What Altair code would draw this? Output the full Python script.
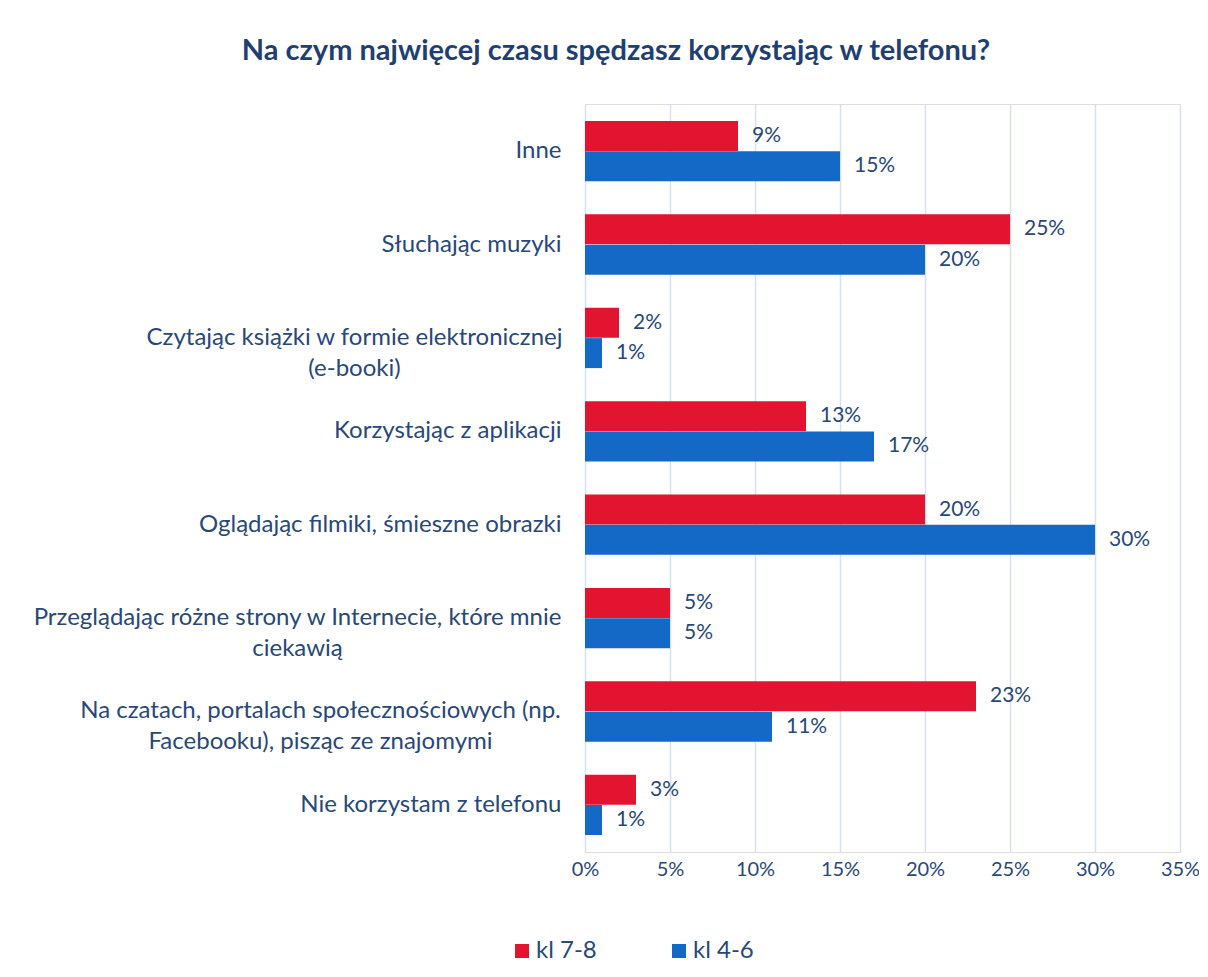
import altair as alt
import pandas as pd

categories = [
    "Inne",
    "Słuchając muzyki",
    "Czytając książki w formie elektronicznej|(e-booki)",
    "Korzystając z aplikacji",
    "Oglądając filmiki, śmieszne obrazki",
    "Przeglądając różne strony w Internecie, które mnie|ciekawią",
    "Na czatach, portalach społecznościowych (np.|Facebooku), pisząc ze znajomymi",
    "Nie korzystam z telefonu",
]
kl78 = [9, 25, 2, 13, 20, 5, 23, 3]
kl46 = [15, 20, 1, 17, 30, 5, 11, 1]
series = ["kl 7-8", "kl 4-6"]
colors = ["#E3142F", "#1468C6"]
ticks = [0, 0.05, 0.10, 0.15, 0.20, 0.25, 0.30, 0.35]

rows = []
for c, a, b in zip(categories, kl78, kl46):
    rows.append({"category": c, "series": series[0], "value": a / 100, "label": f"{a}%"})
    rows.append({"category": c, "series": series[1], "value": b / 100, "label": f"{b}%"})
df = pd.DataFrame(rows)

FONT = "Lato"
TXT = "#28487A"

two_line = "indexof(datum.value, '|') >= 0"

y_axis = alt.Axis(
    title=None,
    labelExpr="split(datum.label, '|')",
    labelFont=FONT,
    labelFontSize=24,
    labelColor=TXT,
    labelLimit=0,
    labelLineHeight=31,
    domain=False,
    ticks=False,
    labelAlign={"condition": {"test": two_line, "value": "center"}, "value": "right"},
    labelPadding={
        "condition": [
            {"test": "indexof(datum.value, 'Czytając') == 0", "value": 231},
            {"test": "indexof(datum.value, 'Przeglądając') == 0", "value": 288},
            {"test": "indexof(datum.value, 'Na czatach') == 0", "value": 265},
        ],
        "value": 24,
    },
)

x_axis = alt.Axis(
    title=None,
    format=".0%",
    values=ticks,
    grid=True,
    gridColor="#D6E0F0",
    gridWidth=1.5,
    domain=False,
    ticks=False,
    labelFlush=False,
    labelFont=FONT,
    labelFontSize=20,
    labelColor=TXT,
    labelPadding=7,
)

y = alt.Y(
    "category:N",
    sort=categories,
    scale=alt.Scale(paddingInner=0.35, paddingOuter=0.18),
    axis=y_axis,
)
yoff = alt.YOffset("series:N", sort=series, scale=alt.Scale(paddingInner=0, paddingOuter=0))
x = alt.X("value:Q", scale=alt.Scale(domain=[0, 0.35], nice=False), axis=x_axis)

bars = alt.Chart(df).mark_bar(size=30).encode(
    y=y,
    yOffset=yoff,
    x=x,
    color=alt.Color(
        "series:N",
        sort=series,
        scale=alt.Scale(domain=series, range=colors),
        legend=alt.Legend(
            title=None,
            orient="none",
            legendX=-75,
            legendY=835,
            direction="horizontal",
            symbolType="square",
            symbolSize=196,
            symbolStrokeWidth=0,
            labelFont=FONT,
            labelFontSize=24,
            labelColor=TXT,
            columnPadding=70,
            labelOffset=2,
        ),
    ),
)

labels = alt.Chart(df).mark_text(
    align="left", baseline="middle", dx=14, font=FONT, fontSize=21, color=TXT
).encode(y=y, yOffset=yoff, x=x, text="label:N")

chart = (
    alt.layer(bars, labels)
    .properties(
        width=595,
        height=748,
        autosize="none",
        padding={"left": 577, "top": 96, "right": 19, "bottom": 115},
        title=alt.Title(
            "Na czym najwięcej czasu spędzasz korzystając w telefonu?",
            font=FONT,
            fontSize=29,
            fontWeight="bold",
            color="#1F3F73",
            anchor="middle",
            frame="bounds",
            offset=38,
        ),
    )
    .configure_view(stroke=None)
    .configure(background="white")
)

chart.save("out.html", embed_options={"renderer": "svg", "actions": False})
